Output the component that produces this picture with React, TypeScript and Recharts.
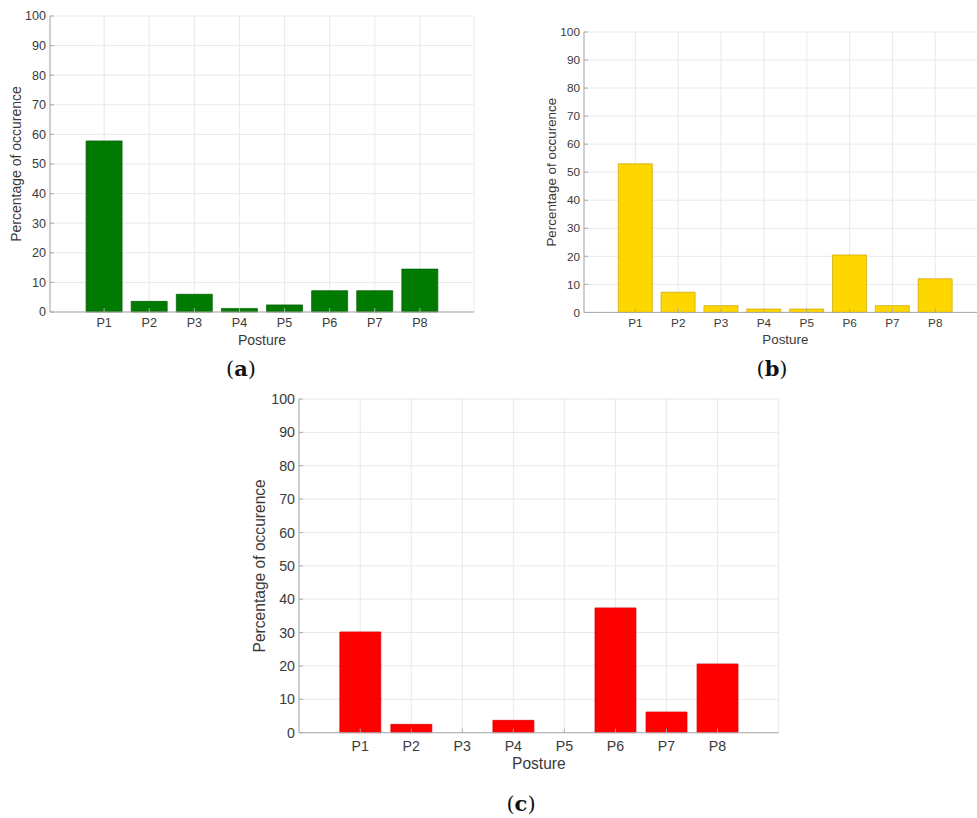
import React from 'react'
import { BarChart, Bar, XAxis, YAxis, CartesianGrid } from 'recharts'

// posture categories and percentage of occurence per panel
const postures = ['P1', 'P2', 'P3', 'P4', 'P5', 'P6', 'P7', 'P8']
const percentA = [57.8, 3.6, 6.0, 1.2, 2.4, 7.2, 7.2, 14.5]
const percentB = [53.0, 7.2, 2.4, 1.2, 1.2, 20.5, 2.4, 12.0]
const percentC = [30.2, 2.5, 0, 3.7, 0, 37.4, 6.2, 20.6]
const yTicks = [0, 10, 20, 30, 40, 50, 60, 70, 80, 90, 100]

const sans = '"Liberation Sans", Arial, Helvetica, sans-serif'
const boxColor = '#a9a9a9'
const textColor = '#3a3a3a'

interface PanelProps {
    values: number[],
    fill: string,
    stroke: string,
    plotLeft: number,
    plotTop: number,
    plotW: number,
    plotH: number,
    yw: number,
    xh: number,
    tickFont: number,
    labelFont: number,
    xTickGap: number
}

function Panel({ values, fill, stroke, plotLeft, plotTop, plotW, plotH, yw, xh, tickFont, labelFont, xTickGap }: PanelProps) {
    const mt = 10
    const mr = 12
    const mb = 8
    const step = plotW / 9.4
    const pad = { left: step * 0.7, right: step * 0.7 }
    const data = postures.map((p, i) => ({ posture: p, value: values[i] }))
    const tickStyle = { fontSize: tickFont, fill: textColor, fontFamily: sans }
    return (
        <div style={{ position: 'absolute', left: plotLeft - yw, top: plotTop - mt }}>
            <BarChart
                width={yw + plotW + mr}
                height={mt + plotH + xh + mb}
                data={data}
                margin={{ top: mt, right: mr, bottom: mb, left: 0 }}
                barCategoryGap="10%"
            >
                <CartesianGrid stroke="#e9e9e9" strokeWidth={1} />
                <XAxis
                    dataKey="posture"
                    height={xh}
                    padding={pad}
                    stroke={boxColor}
                    tickSize={-4}
                    tickMargin={4 + xTickGap}
                    tick={tickStyle}
                    interval={0}
                    label={{ value: 'Posture', position: 'insideBottom', offset: 0, fontSize: labelFont, fill: textColor, fontFamily: sans }}
                />
                <XAxis
                    xAxisId="top"
                    orientation="top"
                    dataKey="posture"
                    height={0}
                    padding={pad}
                    stroke={boxColor}
                    tickSize={-4}
                    tick={false}
                    interval={0}
                />
                <YAxis
                    type="number"
                    domain={[0, 100]}
                    ticks={yTicks}
                    interval={0}
                    width={yw}
                    stroke={boxColor}
                    tickSize={-4}
                    tickMargin={8}
                    tick={tickStyle}
                    label={{ value: 'Percentage of occurence', angle: -90, position: 'center', fontSize: labelFont, fill: textColor, fontFamily: sans }}
                />
                <YAxis
                    yAxisId="right"
                    orientation="right"
                    type="number"
                    domain={[0, 100]}
                    ticks={yTicks}
                    interval={0}
                    width={0}
                    stroke={boxColor}
                    tickSize={-4}
                    tick={false}
                />
                <Bar dataKey="value" fill={fill} stroke={stroke} strokeWidth={0.7} isAnimationActive={false} />
            </BarChart>
        </div>
    )
}

function Caption({ letter, cx, cy }: { letter: string, cx: number, cy: number }) {
    return (
        <div style={{
            position: 'absolute', left: cx - 40, top: cy - 12, width: 80, textAlign: 'center',
            fontFamily: '"DejaVu Serif", "Liberation Serif", serif', fontSize: 21, lineHeight: '24px', color: '#111'
        }}>
            (<b>{letter}</b>)
        </div>
    )
}

export default function App() {
    return (
        <div style={{ position: 'absolute', left: 0, top: 0, width: 977, height: 818, overflow: 'hidden', background: '#fff' }}>
            <Panel values={percentA} fill="#007a00" stroke="#005c00"
                plotLeft={50} plotTop={16} plotW={424} plotH={296} yw={68} xh={33}
                tickFont={12.6} labelFont={14} xTickGap={6.3} />
            <Panel values={percentB} fill="#ffd700" stroke="#c9a300"
                plotLeft={584.3} plotTop={32.3} plotW={402.7} plotH={280.4} yw={65} xh={31.5}
                tickFont={11.8} labelFont={13.4} xTickGap={6.5} />
            <Panel values={percentC} fill="#ff0000" stroke="#d80000"
                plotLeft={299.3} plotTop={399} plotW={479.7} plotH={333.7} yw={79} xh={36}
                tickFont={14.2} labelFont={15.6} xTickGap={8.3} />
            <Caption letter="a" cx={241} cy={369} />
            <Caption letter="b" cx={772} cy={369} />
            <Caption letter="c" cx={521} cy={804} />
        </div>
    )
}
